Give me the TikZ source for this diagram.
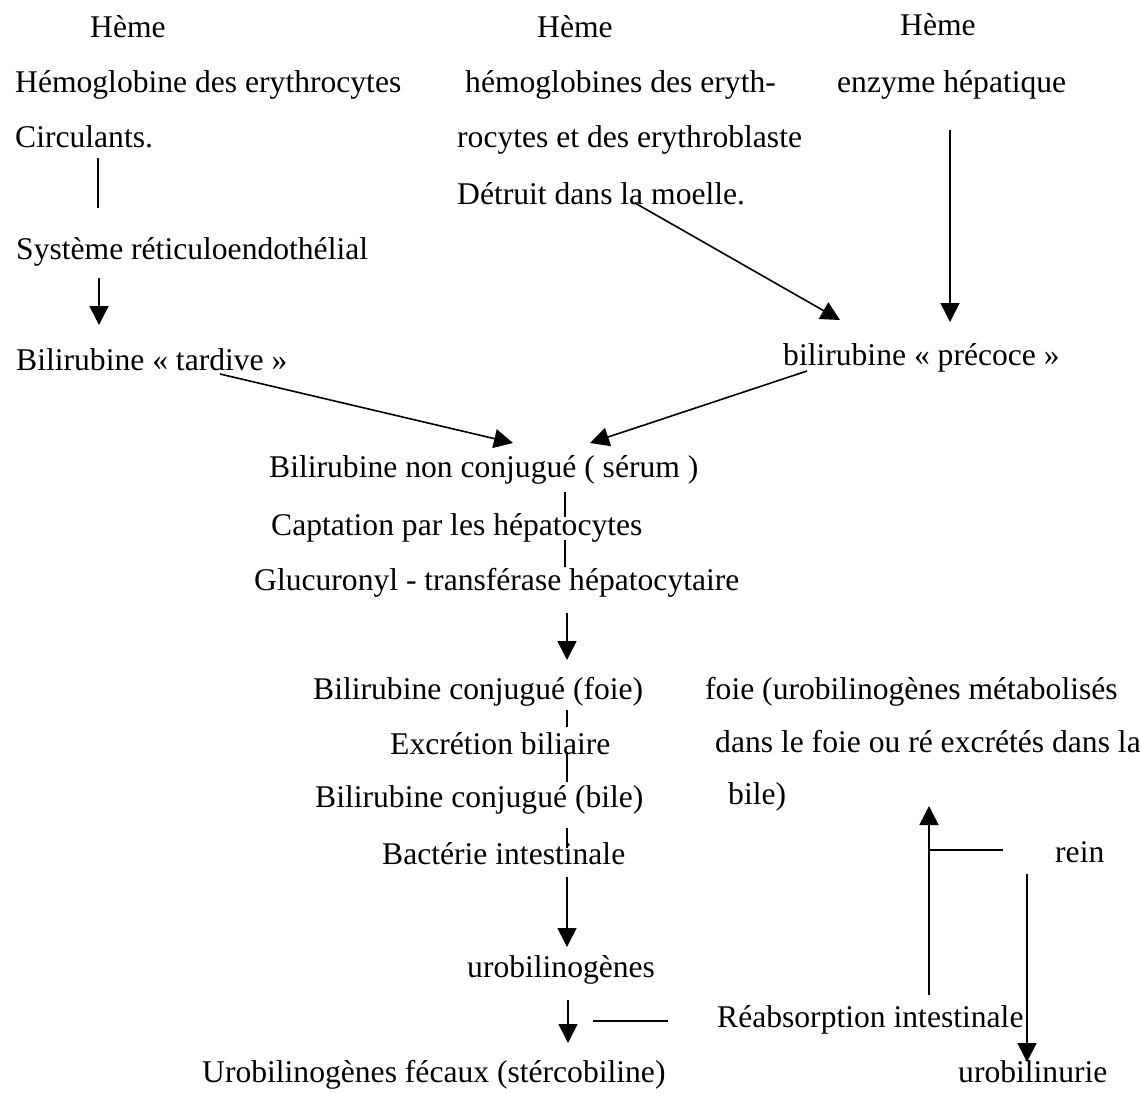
\documentclass[tikz,border=0pt]{standalone}
\usepackage{fontspec}
\setmainfont{Liberation Serif}
\usetikzlibrary{arrows.meta}

\begin{document}
\begin{tikzpicture}[x=1pt, y=-1pt,
  txt/.style={anchor=west, inner sep=0pt, text height=22pt, text depth=7pt, font=\fontsize{31.6}{38}\selectfont},
  fleche/.style={line width=1.6pt, -{Triangle[length=19pt,width=19pt]}},
  trait/.style={line width=1.3pt}]
\useasboundingbox [fill=white] (0,0) rectangle (1140,1093);
\node [txt] (heme1) at (90,30) {Hème};
\node [txt] (heme2) at (537,30) {Hème};
\node [txt] (heme3) at (900,28) {Hème};
\node [txt] (hemo1) at (15,85) {Hémoglobine des erythrocytes};
\node [txt] (hemo2) at (465,85) {hémoglobines des eryth-};
\node [txt] (enzyme) at (837,85) {enzyme hépatique};
\node [txt] (circ) at (15,140) {Circulants.};
\node [txt] (rocytes) at (457,140) {rocytes et des erythroblaste};
\node [txt] (detruit) at (457,197) {Détruit dans la moelle.};
\node [txt] (systeme) at (16,252) {Système réticuloendothélial};
\node [txt] (tardive) at (16,363) {Bilirubine « tardive »};
\node [txt] (precoce) at (783,358) {bilirubine « précoce »};
\node [txt] (nonconj) at (269,470) {Bilirubine non conjugué ( sérum )};
\node [txt] (captation) at (271,528) {Captation par les hépatocytes};
\node [txt] (glucuro) at (254,583) {Glucuronyl - transférase hépatocytaire};
\node [txt] (conjfoie) at (313,692) {Bilirubine conjugué (foie)};
\node [txt] (excretion) at (390,747) {Excrétion biliaire};
\node [txt] (conjbile) at (315,800) {Bilirubine conjugué (bile)};
\node [txt] (bacterie) at (382,857) {Bactérie intestinale};
\node [txt] (urobil) at (467,970) {urobilinogènes};
\node [txt] (fecaux) at (202,1075) {Urobilinogènes fécaux (stércobiline)};
\node [txt] (foiemeta) at (705,692) {foie (urobilinogènes métabolisés};
\node [txt] (dansfoie) at (715,745) {dans le foie ou ré excrétés dans la};
\node [txt] (bilefin) at (728,797) {bile)};
\node [txt] (rein) at (1055,855) {rein};
\node [txt] (reabs) at (717,1020) {Réabsorption intestinale};
\node [txt] (urinurie) at (958,1075) {urobilinurie};
\coordinate (circbas) at (98,158);
\coordinate (systhaut) at (98,208);
\coordinate (systbas) at (99,278);
\coordinate (tardhaut) at (99,325);
\coordinate (moelle) at (635,203);
\coordinate (precgauche) at (840,320);
\coordinate (enzbas) at (950,130);
\coordinate (precdroite) at (950,322);
\coordinate (tarddepart) at (220,374);
\coordinate (serumgauche) at (513,443);
\coordinate (precdepart) at (807,371);
\coordinate (serumdroite) at (590,443);
\coordinate (reabshaut) at (929,995);
\coordinate (bilebas) at (929,806);
\coordinate (embranch) at (929,850);
\coordinate (reinbout) at (1003,850);
\coordinate (reinbas) at (1027,874);
\coordinate (urinhaut) at (1027,1062);
\coordinate (fecauxbout) at (593,1021);
\coordinate (reabsbout) at (668,1021);
\draw [trait] (circbas) -- (systhaut);
\draw [fleche] (systbas) -- (tardhaut);
\draw [fleche] (moelle) -- (precgauche);
\draw [fleche] (enzbas) -- (precdroite);
\draw [fleche] (tarddepart) -- (serumgauche);
\draw [fleche] (precdepart) -- (serumdroite);
\draw [trait] (565,492) -- (565,517);
\draw [trait] (565,540) -- (565,567);
\draw [fleche] (567,613) -- (567,660);
\draw [trait] (567,710) -- (567,727);
\draw [trait] (567,752) -- (567,782);
\draw [trait] (567,828) -- (567,848);
\draw [fleche] (567,877) -- (567,947);
\draw [fleche] (568,1000) -- (568,1043);
\draw [trait] (fecauxbout) -- (reabsbout);
\draw [fleche] (reabshaut) -- (bilebas);
\draw [trait] (embranch) -- (reinbout);
\draw [fleche] (reinbas) -- (urinhaut);
\end{tikzpicture}
\end{document}
